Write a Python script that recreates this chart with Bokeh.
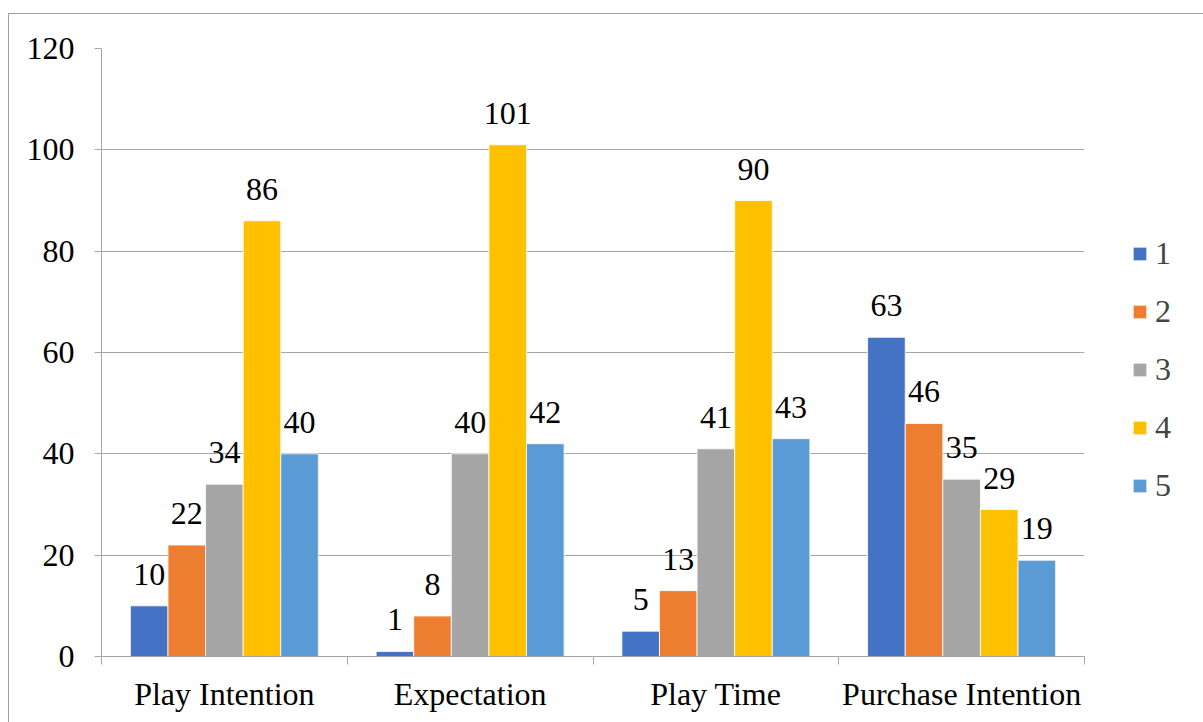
import numpy as np
from bokeh.plotting import figure
from bokeh.models import ColumnDataSource, FixedTicker, Range1d, Legend, LegendItem, LabelSet
from bokeh.core.properties import value
from bokeh.embed import file_html
from bokeh.resources import INLINE

categories = ["Play Intention", "Expectation", "Play Time", "Purchase Intention"]
series_names = ["1", "2", "3", "4", "5"]
s1 = [10, 1, 5, 63]
s2 = [22, 8, 13, 46]
s3 = [34, 40, 41, 35]
s4 = [86, 101, 90, 29]
s5 = [40, 42, 43, 19]
y_ticks = [0, 20, 40, 60, 80, 100, 120]
colors = ["#4472C4", "#ED7D31", "#A5A5A5", "#FFC000", "#5B9BD5"]

FONT = "Liberation Serif"
GRID = "#a6a6a6"
FS = "32px"

centers = list(np.arange(len(categories)) + 0.5)
bw = 0.153
offsets = [-2 * bw, -bw, 0, bw, 2 * bw]

p = figure(frame_width=983, frame_height=608, output_backend="svg", toolbar_location=None,
           x_range=Range1d(0, len(categories)), y_range=Range1d(0, 120),
           min_border_left=92, min_border_right=0, min_border_top=34, min_border_bottom=67)
p.margin = (13, 0, 0, 8)
p.styles = {"border-top": "1px solid #a0a0a0", "border-left": "1px solid #a0a0a0"}
p.outline_line_color = None
p.background_fill_color = "white"
p.border_fill_color = "white"

items = []
for name, col, off, vals in zip(series_names, colors, offsets, [s1, s2, s3, s4, s5]):
    src = ColumnDataSource({"x": [c + off for c in centers], "v": vals,
                            "t": [str(v) for v in vals]})
    r = p.vbar(x="x", top="v", width=bw, bottom=0, source=src,
               fill_color=col, line_color="#ffffff", line_width=0.8)
    lab = LabelSet(x="x", y="v", text="t", source=src,
                   text_font=value("Times"), text_font_size=value(FS), text_color="black",
                   text_align="center", text_baseline="alphabetic", y_offset=21)
    p.add_layout(lab)
    items.append(LegendItem(label=name, renderers=[r]))

# axes
p.xaxis.ticker = FixedTicker(ticks=centers, minor_ticks=list(range(len(categories) + 1)))
p.xaxis.major_label_overrides = {c: lab for c, lab in zip(centers, categories)}
p.xaxis.major_tick_line_color = None
p.xaxis.minor_tick_in = 0
p.xaxis.minor_tick_out = 8
p.xaxis.minor_tick_line_color = GRID
p.xaxis.axis_line_color = GRID
p.xaxis.major_label_text_font = FONT
p.xaxis.major_label_text_font_size = FS
p.xaxis.major_label_text_color = "black"
p.xaxis.major_label_standoff = 11

p.yaxis.ticker = FixedTicker(ticks=y_ticks)
p.yaxis.major_tick_in = 0
p.yaxis.major_tick_out = 7
p.yaxis.major_tick_line_color = GRID
p.yaxis.minor_tick_line_color = None
p.yaxis.axis_line_color = GRID
p.yaxis.major_label_text_font = FONT
p.yaxis.major_label_text_font_size = FS
p.yaxis.major_label_text_color = "black"
p.yaxis.major_label_standoff = 20

p.xgrid.grid_line_color = None
p.ygrid.grid_line_color = GRID
p.ygrid.grid_line_width = 1

legend = Legend(items=items, location=(47, 152), orientation="vertical",
                label_text_font="serif", label_text_font_size=FS,
                glyph_width=17, glyph_height=17, spacing=21, padding=8,
                margin=0, label_standoff=7, border_line_color=None,
                background_fill_alpha=0)
p.add_layout(legend, "right")

open("out.html", "w").write(file_html(p, INLINE))
